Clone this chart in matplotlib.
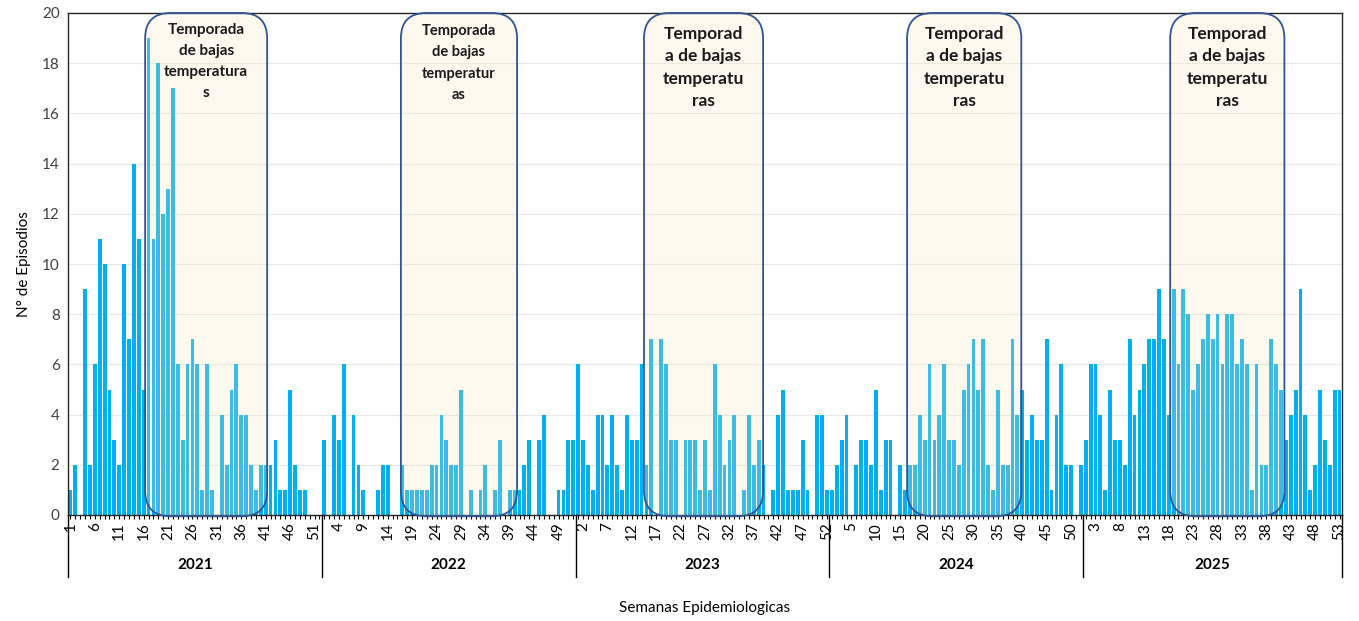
import matplotlib.pyplot as plt
from matplotlib.patches import FancyBboxPatch
import numpy as np

# episodios por semana epidemiologica
years = ['2021', '2022', '2023', '2024', '2025']
ep_2021 = [1, 2, 0, 9, 2, 6, 11, 10, 5, 3, 2, 10, 7, 14, 11, 5, 19, 11, 18, 12, 13, 17, 6,
           3, 6, 7, 6, 1, 6, 1, 0, 4, 2, 5, 6, 4, 4, 2, 1, 2, 2, 2, 3, 1, 1, 5, 2, 1,
           1, 0, 0, 0]
ep_2022 = [3, 0, 4, 3, 6, 0, 4, 2, 1, 0, 0, 1, 2, 2, 0, 0, 2, 1, 1, 1,
           1, 1, 2, 2, 4, 3, 2, 2, 5, 0, 1, 0, 1, 2, 0, 1, 3, 0, 1, 1, 1, 2, 3, 0,
           3, 4, 0, 0, 1, 1, 3, 3]
ep_2023 = [6, 3, 2, 1, 4, 4, 2, 4, 2, 1, 4, 3, 3, 6, 2, 7,
           0, 7, 6, 3, 3, 0, 3, 3, 3, 1, 3, 1, 6, 4, 2, 3, 4, 0, 1, 4, 2, 3, 2, 0,
           1, 4, 5, 1, 1, 1, 3, 1, 0, 4, 4, 1]
ep_2024 = [1, 2, 3, 4, 0, 2, 3, 3, 2, 5, 1, 3, 3,
           0, 2, 1, 2, 2, 4, 3, 6, 3, 4, 6, 3, 3, 2, 5, 6, 7, 5, 7, 2, 1, 5, 2,
           2, 7, 4, 5, 3, 4, 3, 3, 7, 1, 4, 6, 2, 2, 0, 2]
ep_2025 = [3, 6, 6, 4, 1, 5, 3, 3,
           2, 7, 4, 5, 6, 7, 7, 9, 7, 4, 9, 6, 9, 8, 5, 6, 7, 8, 7, 8, 6, 8, 8, 6, 7,
           6, 1, 6, 2, 2, 7, 6, 5, 3, 4, 5, 9, 4, 1, 2, 5, 3, 2, 5, 5]
series = [ep_2021, ep_2022, ep_2023, ep_2024, ep_2025]

season_text = ['Temporada\nde bajas\ntemperatura\ns',
               'Temporada\nde bajas\ntemperatur\nas',
               'Temporad\na de bajas\ntemperatu\nras',
               'Temporad\na de bajas\ntemperatu\nras',
               'Temporad\na de bajas\ntemperatu\nras']

values = np.concatenate(series)
weeks = np.concatenate([np.arange(1, len(s) + 1) for s in series])
x = np.arange(len(values))
bounds = np.cumsum([0] + [len(s) for s in series]) - 0.5

plt.rcParams['font.family'] = ['Lato', 'DejaVu Sans']

fig = plt.figure(figsize=(13.59, 6.21), dpi=100)
ax = fig.add_axes([68 / 1359, 1 - 515 / 621, (1342 - 68) / 1359, (515 - 13) / 621])

ax.bar(x, values, width=0.78, color='#00B0F0', zorder=2)

ax.set_xlim(-0.5, len(values) - 0.5)
ax.set_ylim(0, 20)
ax.set_yticks(np.arange(0, 21, 2))
ax.yaxis.grid(True, color='#E8E8E8', linewidth=0.8, zorder=0)
ax.set_axisbelow(True)
ax.tick_params(axis='y', length=0, labelsize=11, labelcolor='#404040', pad=6)

ax.set_xticks(x[::5])
ax.set_xticklabels([str(w) for w in weeks[::5]], rotation=90, fontsize=11)
ax.set_xticks(x, minor=True)
ax.tick_params(axis='x', which='both', length=3, width=0.8, pad=2)

for sp in ax.spines.values():
    sp.set_color('#262626')
    sp.set_linewidth(1.0)

# year separators and labels
trans = ax.get_xaxis_transform()
for b in bounds:
    ax.plot([b, b], [0, -0.124], color='black', lw=1.0, transform=trans, clip_on=False)
for i, yr in enumerate(years):
    ax.text((bounds[i] + bounds[i + 1]) / 2, -0.0996, yr, transform=trans,
            ha='center', va='center', fontsize=11, fontweight='bold')

# low temperature season boxes (positions in bar units)
box_x = [(15.3, 40.3), (67.7, 91.5), (117.5, 141.9), (171.4, 194.8), (225.3, 248.7)]
text_size = [11, 10.5, 12.5, 12.5, 12.5]
text_top = [19.6, 19.55, 19.5, 19.5, 19.5]
text_ls = [1.65, 1.65, 1.5, 1.5, 1.5]
for (x0, x1), txt, fs, ty, ls in zip(box_x, season_text, text_size, text_top, text_ls):
    fill = FancyBboxPatch((x0, -0.05), x1 - x0, 20.05,
                          boxstyle='round,pad=0,rounding_size=5.2',
                          mutation_aspect=0.194, facecolor='#F7E6BE', alpha=0.24,
                          edgecolor='none', zorder=3, clip_on=False)
    edge = FancyBboxPatch((x0, -0.05), x1 - x0, 20.05,
                          boxstyle='round,pad=0,rounding_size=5.2',
                          mutation_aspect=0.194, facecolor='none',
                          edgecolor='#2F5597', lw=1.3, zorder=4, clip_on=False)
    ax.add_patch(fill)
    ax.add_patch(edge)
    ax.text((x0 + x1) / 2, ty, txt, ha='center', va='top', fontsize=fs,
            fontweight='bold', color='#1a1a1a', linespacing=ls, zorder=5)

ax.set_ylabel('N° de Episodios', fontsize=11, labelpad=8)
fig.text(705 / 1359, 1 - 608 / 621, 'Semanas Epidemiologicas', ha='center',
         va='center', fontsize=11)

fig.savefig('out.png', dpi=100)
